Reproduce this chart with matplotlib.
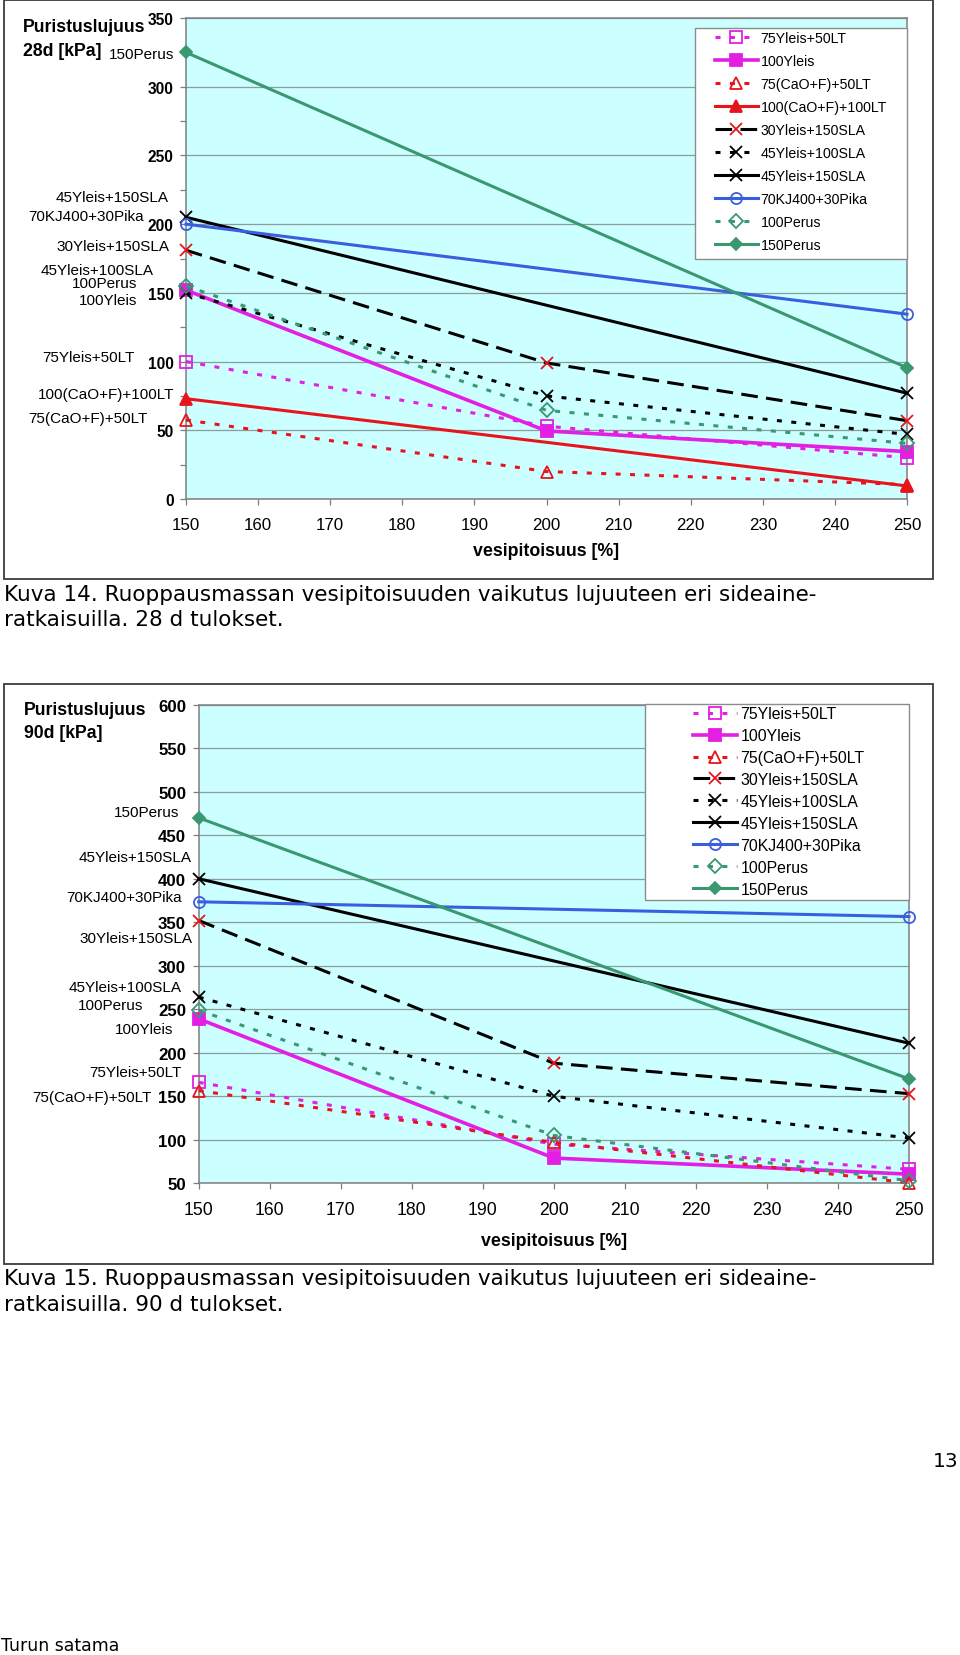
import matplotlib
matplotlib.use('Agg')
import matplotlib.pyplot as plt
from matplotlib.patches import Rectangle
from matplotlib.ticker import MultipleLocator

plt.rcParams['font.family'] = ['Liberation Sans', 'DejaVu Sans']
plt.rcParams['lines.scale_dashes'] = False

W, H = 960, 1656

# vesipitoisuus [%]
w3 = [150, 200, 250]
w2 = [150, 250]

# 28 d puristuslujuus [kPa]
kpa28_75yleis_50lt = [100, 53, 30]
kpa28_100yleis = [152, 49.5, 34.5]
kpa28_75caof_50lt = [57.5, 20, 10.5]
kpa28_100caof_100lt = [73, 9.5]
kpa28_30yleis_150sla = [181, 99, 57]
kpa28_45yleis_100sla = [150, 75, 47]
kpa28_45yleis_150sla = [205, 77]
kpa28_70kj400_30pika = [200, 134.5]
kpa28_100perus = [155, 64.5, 40.5]
kpa28_150perus = [325, 95.5]

# 90 d puristuslujuus [kPa]
kpa90_75yleis_50lt = [166, 95, 66]
kpa90_100yleis = [239, 79, 60.5]
kpa90_75caof_50lt = [156.5, 97, 50.5]
kpa90_30yleis_150sla = [352, 188, 153]
kpa90_45yleis_100sla = [264, 150, 102]
kpa90_45yleis_150sla = [400, 211]
kpa90_70kj400_30pika = [373.5, 356.5]
kpa90_100perus = [249, 105, 53]
kpa90_150perus = [470, 170]

names28 = ['75Yleis+50LT', '100Yleis', '75(CaO+F)+50LT', '100(CaO+F)+100LT',
           '30Yleis+150SLA', '45Yleis+100SLA', '45Yleis+150SLA',
           '70KJ400+30Pika', '100Perus', '150Perus']
data28 = [(w3, kpa28_75yleis_50lt), (w3, kpa28_100yleis), (w3, kpa28_75caof_50lt),
          (w2, kpa28_100caof_100lt), (w3, kpa28_30yleis_150sla),
          (w3, kpa28_45yleis_100sla), (w2, kpa28_45yleis_150sla),
          (w2, kpa28_70kj400_30pika), (w3, kpa28_100perus), (w2, kpa28_150perus)]

names90 = ['75Yleis+50LT', '100Yleis', '75(CaO+F)+50LT', '30Yleis+150SLA',
           '45Yleis+100SLA', '45Yleis+150SLA', '70KJ400+30Pika',
           '100Perus', '150Perus']
data90 = [(w3, kpa90_75yleis_50lt), (w3, kpa90_100yleis), (w3, kpa90_75caof_50lt),
          (w3, kpa90_30yleis_150sla), (w3, kpa90_45yleis_100sla),
          (w2, kpa90_45yleis_150sla), (w2, kpa90_70kj400_30pika),
          (w3, kpa90_100perus), (w2, kpa90_150perus)]

MAG = '#e21fe2'
RED = '#e8141c'
GRN = '#3a9870'
BLU = '#3a5ee0'
BLK = '#000000'
DOT = (0, (3.6, 6.8))
LDASH = (0, (12, 6))

# name: colour, linestyle, marker, marker face, marker edge, marker size
styles = {
    '75Yleis+50LT': (MAG, DOT, 's', 'none', MAG, 8),
    '100Yleis': (MAG, '-', 's', MAG, MAG, 8),
    '75(CaO+F)+50LT': (RED, DOT, '^', 'none', RED, 8.5),
    '100(CaO+F)+100LT': (RED, '-', '^', RED, RED, 8.5),
    '30Yleis+150SLA': (BLK, LDASH, 'x', RED, RED, 8.5),
    '45Yleis+100SLA': (BLK, DOT, 'x', BLK, BLK, 8.5),
    '45Yleis+150SLA': (BLK, '-', 'x', BLK, BLK, 8.5),
    '70KJ400+30Pika': (BLU, '-', 'o', 'none', BLU, 8),
    '100Perus': (GRN, DOT, 'D', 'none', GRN, 7),
    '150Perus': (GRN, '-', 'D', GRN, GRN, 6.5),
}


def fx(px):
    return px / W


def fy(py):
    return 1 - py / H


fig = plt.figure(figsize=(W / 100, H / 100), dpi=100)
fig.patch.set_facecolor('white')


def draw_chart(ax, names, data, ylim, ystep, yminor, ytick_fs, xtick_fs,
               leg_fs, leg_space, leg_anchor, leg_frame, leg_hlen):
    ax.set_facecolor('#ccffff')
    for name, (xs, ys) in zip(names, data):
        c, ls, m, mfc, mec, ms = styles[name]
        lw = 2.6 if name == '100Yleis' else 2.2
        ax.plot(xs, ys, color=c, linestyle=ls, lw=lw, marker=m, mfc=mfc, mec=mec,
                ms=ms, mew=1.3, label=name, dash_capstyle='butt', clip_on=False, zorder=3)
    ax.set_xlim(150, 250)
    ax.set_ylim(*ylim)
    ax.xaxis.set_major_locator(MultipleLocator(10))
    ax.yaxis.set_major_locator(MultipleLocator(ystep))
    if yminor:
        ax.yaxis.set_minor_locator(MultipleLocator(yminor))
    ax.grid(axis='y', which='major', color='#8c9c9c', lw=0.9, zorder=1)
    ax.set_axisbelow(True)
    for s in ax.spines.values():
        s.set_color('#7f7f7f')
        s.set_linewidth(1.1)
    ax.tick_params(axis='x', direction='out', length=4, width=0.9, color='#7f7f7f',
                   labelsize=xtick_fs, pad=9)
    ax.tick_params(axis='y', which='both', direction='out', length=4, width=0.9,
                   color='#7f7f7f', labelsize=ytick_fs, pad=5)
    for t in ax.get_yticklabels():
        t.set_fontweight('bold')
    ax.add_patch(Rectangle(leg_frame[:2], leg_frame[2], leg_frame[3], transform=ax.transAxes,
                           facecolor='white', edgecolor='#8c8c8c', lw=1.0, zorder=4,
                           clip_on=False))
    leg = ax.legend(loc='upper left', bbox_to_anchor=leg_anchor, frameon=False,
                    borderpad=0, borderaxespad=0, fontsize=leg_fs, labelspacing=leg_space,
                    handlelength=leg_hlen, handletextpad=0.2)
    leg.set_zorder(5)


ax1 = fig.add_axes([fx(186), fy(500), (907 - 186) / W, (500 - 19) / H])
draw_chart(ax1, names28, data28, (0, 350), 50, 25, 11.2, 12.2, 10.2, 0.64,
           (0.734, 0.9735), (0.706, 0.499, 0.294, 0.480), 3.0)

ax2 = fig.add_axes([fx(198.7), fy(1184.3), (909 - 198.7) / W, (1184.3 - 705.7) / H])
draw_chart(ax2, names90, data90, (50, 600), 50, None, 12.2, 12.7, 11.4, 0.44,
           (0.696, 0.997), (0.629, 0.5926, 0.371, 0.409), 2.8)

# chart frames
for top, bottom in [(1, 580), (685, 1265)]:
    fig.add_artist(Rectangle((fx(4), fy(bottom)), (933 - 4) / W, (bottom - top) / H,
                             transform=fig.transFigure, fill=False, ec='#3c3c3c', lw=1.3))

# axis titles
fig.text(fx(23), fy(28), 'Puristuslujuus', fontsize=12.7, fontweight='bold', va='center')
fig.text(fx(23), fy(52), '28d [kPa]', fontsize=12.7, fontweight='bold', va='center')
fig.text(fx(24), fy(711), 'Puristuslujuus', fontsize=12.7, fontweight='bold', va='center')
fig.text(fx(24), fy(733), '90d [kPa]', fontsize=12.7, fontweight='bold', va='center')
fig.text(fx(546), fy(552), 'vesipitoisuus [%]', fontsize=12.8, fontweight='bold',
         ha='center', va='center')
fig.text(fx(554), fy(1242), 'vesipitoisuus [%]', fontsize=12.8, fontweight='bold',
         ha='center', va='center')

# series names beside the y axis
side28 = [('150Perus', 174, 55), ('45Yleis+150SLA', 169, 198), ('70KJ400+30Pika', 144, 217),
          ('30Yleis+150SLA', 169, 247), ('45Yleis+100SLA', 154, 271), ('100Perus', 137, 284),
          ('100Yleis', 137, 301), ('75Yleis+50LT', 135, 358), ('100(CaO+F)+100LT', 174, 395),
          ('75(CaO+F)+50LT', 148, 419)]
side90 = [('150Perus', 179, 813), ('45Yleis+150SLA', 192, 858), ('70KJ400+30Pika', 182, 898),
          ('30Yleis+150SLA', 192, 939), ('45Yleis+100SLA', 182, 988), ('100Perus', 143, 1006),
          ('100Yleis', 173, 1030), ('75Yleis+50LT', 182, 1073), ('75(CaO+F)+50LT', 152, 1098)]
for txt, x, y in side28 + side90:
    fig.text(fx(x), fy(y), txt, fontsize=11.0, ha='right', va='center')

# captions
cap = dict(fontsize=15.5, family='DejaVu Sans', va='center')
fig.text(fx(4), fy(595), 'Kuva 14. Ruoppausmassan vesipitoisuuden vaikutus lujuuteen eri sideaine-', **cap)
fig.text(fx(4), fy(620), 'ratkaisuilla. 28 d tulokset.', **cap)
fig.text(fx(4), fy(1279), 'Kuva 15. Ruoppausmassan vesipitoisuuden vaikutus lujuuteen eri sideaine-', **cap)
fig.text(fx(4), fy(1305), 'ratkaisuilla. 90 d tulokset.', **cap)
fig.text(fx(958), fy(1462), '13', fontsize=14.5, family='DejaVu Sans', ha='right', va='center')
fig.text(fx(1), fy(1646), 'Turun satama', fontsize=12.4, family='DejaVu Sans', va='center')

fig.savefig('out.png', dpi=100)
